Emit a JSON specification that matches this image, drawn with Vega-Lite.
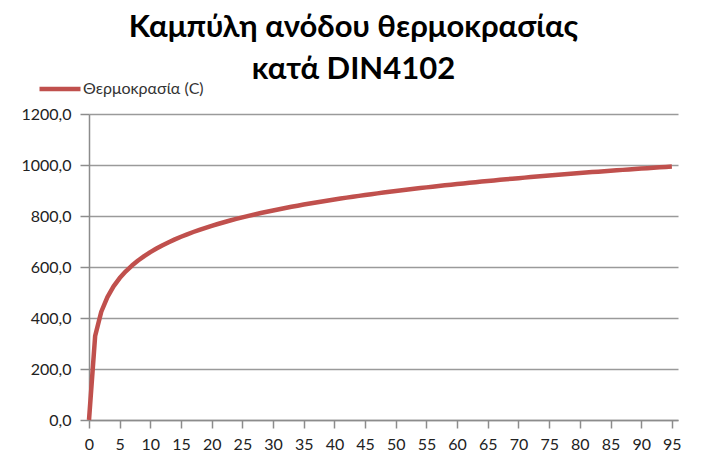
{
  "$schema": "https://vega.github.io/schema/vega-lite/v6.json",
  "autosize": "none",
  "width": 589,
  "height": 306,
  "padding": {"left": 89, "top": 114, "right": 24, "bottom": 35},
  "background": "white",
  "title": {
    "text": ["Καμπύλη ανόδου θερμοκρασίας", "κατά DIN4102"],
    "font": "Lato",
    "fontSize": 31,
    "fontWeight": "bold",
    "color": "#000000",
    "lineHeight": 42,
    "anchor": "middle",
    "dx": -30,
    "offset": -20
  },
  "data": {
    "values": [
      {"t": 0, "T": 0}, {"t": 1, "T": 329.2}, {"t": 2, "T": 424.5}, {"t": 3, "T": 482.3}, {"t": 4, "T": 523.9},
      {"t": 5, "T": 556.4}, {"t": 6, "T": 583.1}, {"t": 7, "T": 605.8}, {"t": 8, "T": 625.5}, {"t": 9, "T": 642.8},
      {"t": 10, "T": 658.4}, {"t": 11, "T": 672.5}, {"t": 12, "T": 685.4}, {"t": 13, "T": 697.3}, {"t": 14, "T": 708.3},
      {"t": 15, "T": 718.6}, {"t": 16, "T": 728.2}, {"t": 17, "T": 737.2}, {"t": 18, "T": 745.7}, {"t": 19, "T": 753.7},
      {"t": 20, "T": 761.4}, {"t": 21, "T": 768.6}, {"t": 22, "T": 775.6}, {"t": 23, "T": 782.2}, {"t": 24, "T": 788.5},
      {"t": 25, "T": 794.6}, {"t": 26, "T": 800.5}, {"t": 27, "T": 806.1}, {"t": 28, "T": 811.5}, {"t": 29, "T": 816.7},
      {"t": 30, "T": 821.8}, {"t": 31, "T": 826.7}, {"t": 32, "T": 831.4}, {"t": 33, "T": 836.0}, {"t": 34, "T": 840.5},
      {"t": 35, "T": 844.8}, {"t": 36, "T": 849.0}, {"t": 37, "T": 853.1}, {"t": 38, "T": 857.1}, {"t": 39, "T": 861.0},
      {"t": 40, "T": 864.7}, {"t": 41, "T": 868.4}, {"t": 42, "T": 872.0}, {"t": 43, "T": 875.6}, {"t": 44, "T": 879.0},
      {"t": 45, "T": 882.3}, {"t": 46, "T": 885.6}, {"t": 47, "T": 888.8}, {"t": 48, "T": 892.0}, {"t": 49, "T": 895.1},
      {"t": 50, "T": 898.1}, {"t": 51, "T": 901.0}, {"t": 52, "T": 903.9}, {"t": 53, "T": 906.8}, {"t": 54, "T": 909.6},
      {"t": 55, "T": 912.3}, {"t": 56, "T": 915.0}, {"t": 57, "T": 917.7}, {"t": 58, "T": 920.3}, {"t": 59, "T": 922.8},
      {"t": 60, "T": 925.3}, {"t": 61, "T": 927.8}, {"t": 62, "T": 930.2}, {"t": 63, "T": 932.6}, {"t": 64, "T": 935.0},
      {"t": 65, "T": 937.3}, {"t": 66, "T": 939.6}, {"t": 67, "T": 941.8}, {"t": 68, "T": 944.1}, {"t": 69, "T": 946.2},
      {"t": 70, "T": 948.4}, {"t": 71, "T": 950.5}, {"t": 72, "T": 952.6}, {"t": 73, "T": 954.7}, {"t": 74, "T": 956.7},
      {"t": 75, "T": 958.7}, {"t": 76, "T": 960.7}, {"t": 77, "T": 962.6}, {"t": 78, "T": 964.6}, {"t": 79, "T": 966.5},
      {"t": 80, "T": 968.4}, {"t": 81, "T": 970.2}, {"t": 82, "T": 972.1}, {"t": 83, "T": 973.9}, {"t": 84, "T": 975.7},
      {"t": 85, "T": 977.4}, {"t": 86, "T": 979.2}, {"t": 87, "T": 980.9}, {"t": 88, "T": 982.6}, {"t": 89, "T": 984.3},
      {"t": 90, "T": 986.0}, {"t": 91, "T": 987.6}, {"t": 92, "T": 989.3}, {"t": 93, "T": 990.9}, {"t": 94, "T": 992.5},
      {"t": 95, "T": 994.1}
    ]
  },
  "mark": {"type": "line", "strokeWidth": 4.5, "strokeJoin": "round"},
  "encoding": {
    "x": {
      "field": "t",
      "type": "quantitative",
      "scale": {"domain": [0, 96], "nice": false, "zero": false},
      "axis": {
        "title": null,
        "values": [0, 5, 10, 15, 20, 25, 30, 35, 40, 45, 50, 55, 60, 65, 70, 75, 80, 85, 90, 95],
        "grid": false,
        "domainColor": "#8c8c8c",
        "domainWidth": 1.5,
        "tickColor": "#8c8c8c",
        "tickWidth": 1.5,
        "tickSize": 8,
        "labelFont": "Lato",
        "labelFontSize": 16,
        "labelColor": "#222222",
        "labelPadding": 8,
        "labelFlush": false
      }
    },
    "y": {
      "field": "T",
      "type": "quantitative",
      "scale": {"domain": [0, 1200], "nice": false},
      "axis": {
        "title": null,
        "values": [0, 200, 400, 600, 800, 1000, 1200],
        "labelExpr": "replace(format(datum.value, '.1f'), '.', ',')",
        "grid": true,
        "gridColor": "#9a9a9a",
        "gridWidth": 1.5,
        "domainColor": "#8c8c8c",
        "domainWidth": 1.5,
        "tickColor": "#8c8c8c",
        "tickWidth": 1.5,
        "tickSize": 9,
        "labelFont": "Lato",
        "labelFontSize": 16,
        "labelColor": "#222222",
        "labelPadding": 9
      }
    },
    "color": {
      "datum": "Θερμοκρασία (C)",
      "type": "nominal",
      "scale": {"range": ["#C0504D"]},
      "legend": {
        "title": null,
        "orient": "none",
        "legendX": -52,
        "legendY": -48,
        "padding": 0,
        "symbolType": "stroke",
        "symbolSize": 1681,
        "symbolStrokeWidth": 4.5,
        "labelFont": "Lato",
        "labelFontSize": 16,
        "labelColor": "#333333",
        "labelOffset": 0
      }
    }
  },
  "config": {"view": {"stroke": null}}
}
